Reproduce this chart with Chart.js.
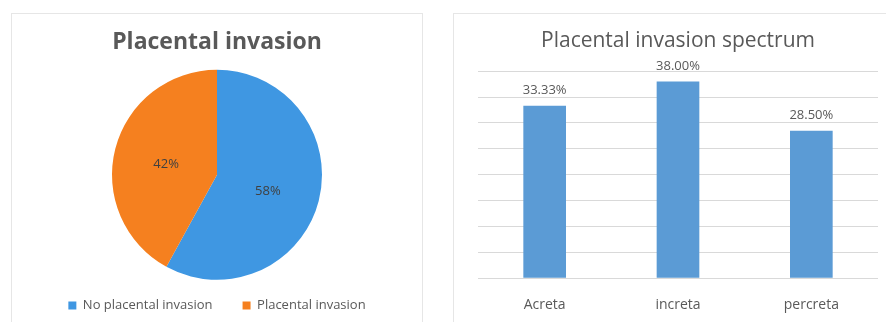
<!DOCTYPE html>
<html>
<head>
<meta charset="utf-8">
<script src="https://cdn.jsdelivr.net/npm/chart.js@4"></script>
<style>
  html, body { margin: 0; padding: 0; background: #ffffff; }
  body { width: 886px; height: 322px; position: relative; overflow: hidden; }
  .panel { position: absolute; border: 1px solid #e6e6e6; box-sizing: border-box; }
  #leftPanel { left: 11px; top: 13px; width: 412px; height: 330px; }
  #rightPanel { left: 453px; top: 13px; width: 450px; height: 330px; }
  .box { position: absolute; }
  #pieBox { left: 12px; top: 14px; width: 410px; height: 308px; }
  #barBox { left: 454px; top: 14px; width: 432px; height: 317px; }
</style>
</head>
<body>
<div class="panel" id="leftPanel"></div>
<div class="panel" id="rightPanel"></div>
<div class="box" id="pieBox"><canvas id="pieChart"></canvas></div>
<div class="box" id="barBox"><canvas id="barChart"></canvas></div>
<script>
// Pie: placental invasion share
const pieLabels = ["No placental invasion", "Placental invasion"];
const pieValues = [58, 42];
const pieColors = ["#3f97e2", "#f5801f"];

// Bars: invasion spectrum (%)
const spectrumLabels = ["Acreta", "increta", "percreta"];
const spectrumValues = [33.33, 38.00, 28.50];

const FONT = "'Open Sans', sans-serif";
const GRAY = "#595959";

// Draw the percent text in the middle of each slice
const pieLabelPlugin = {
  id: "pieLabels",
  afterDatasetsDraw(chart) {
    const ctx = chart.ctx;
    const meta = chart.getDatasetMeta(0);
    ctx.save();
    ctx.font = "13px " + FONT;
    ctx.fillStyle = "#404040";
    ctx.textAlign = "center";
    ctx.textBaseline = "middle";
    meta.data.forEach((arc, i) => {
      const p = arc.tooltipPosition();
      ctx.fillText(pieValues[i] + "%", p.x, p.y + 3);
    });
    ctx.restore();
  }
};

// Value labels above the bars
const barLabelPlugin = {
  id: "barLabels",
  afterDatasetsDraw(chart) {
    const ctx = chart.ctx;
    const meta = chart.getDatasetMeta(0);
    ctx.save();
    ctx.font = "13px " + FONT;
    ctx.fillStyle = GRAY;
    ctx.textAlign = "center";
    ctx.textBaseline = "middle";
    meta.data.forEach((bar, i) => {
      ctx.fillText(spectrumValues[i].toFixed(2) + "%", bar.x, bar.y - 15);
    });
    ctx.restore();
  }
};

new Chart(document.getElementById("pieChart").getContext("2d"), {
  type: "pie",
  data: {
    labels: pieLabels,
    datasets: [{
      data: pieValues,
      backgroundColor: pieColors,
      borderWidth: 0,
      clip: false
    }]
  },
  options: {
    responsive: true,
    maintainAspectRatio: false,
    animation: false,
    radius: 105,
    layout: { padding: { bottom: 0 } },
    plugins: {
      title: {
        display: true,
        text: "Placental invasion",
        color: GRAY,
        font: { size: 23, weight: "bold", family: FONT },
        padding: { top: 15, bottom: 24 }
      },
      legend: {
        position: "bottom",
        labels: {
          boxWidth: 8,
          boxHeight: 8,
          padding: 30,
          color: GRAY,
          font: { size: 13, family: FONT }
        }
      },
      tooltip: { enabled: false }
    }
  },
  plugins: [pieLabelPlugin]
});

new Chart(document.getElementById("barChart").getContext("2d"), {
  type: "bar",
  data: {
    labels: spectrumLabels,
    datasets: [{
      data: spectrumValues,
      backgroundColor: "#5b9bd5",
      barPercentage: 0.32,
      categoryPercentage: 1
    }]
  },
  options: {
    responsive: true,
    maintainAspectRatio: false,
    animation: false,
    layout: { padding: { left: 24, right: 8, bottom: 0 } },
    scales: {
      y: {
        min: 0,
        max: 40,
        ticks: { display: false, stepSize: 5 },
        border: { display: false },
        grid: { color: "#d9d9d9", drawTicks: false }
      },
      x: {
        grid: { display: false, drawTicks: false },
        border: { display: false },
        ticks: { color: GRAY, padding: 18, font: { size: 14, family: FONT } }
      }
    },
    plugins: {
      title: {
        display: true,
        text: "Placental invasion spectrum",
        color: GRAY,
        font: { size: 21, weight: "normal", family: FONT },
        padding: { top: 14, bottom: 18 }
      },
      legend: { display: false },
      tooltip: { enabled: false }
    }
  },
  plugins: [barLabelPlugin]
});
</script>
</body>
</html>
